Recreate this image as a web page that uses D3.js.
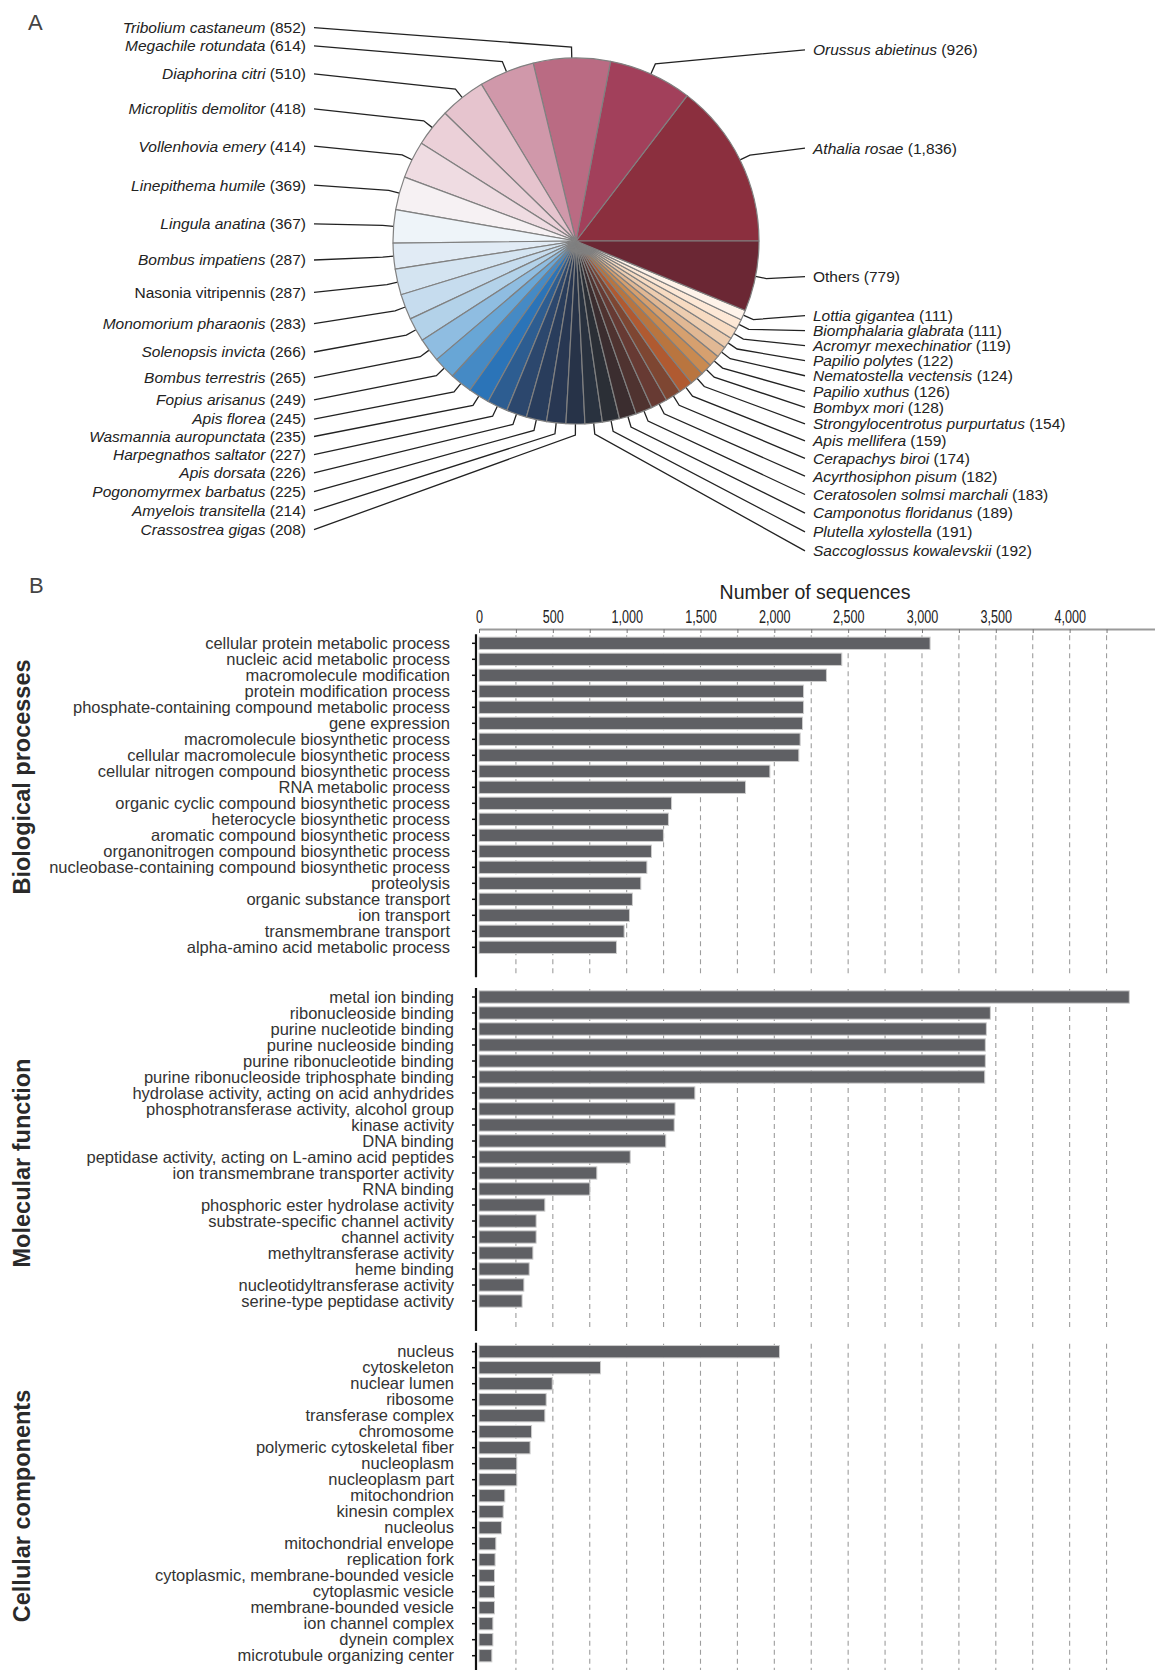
<!DOCTYPE html>
<html>
<head>
<meta charset="utf-8">
<script src="https://cdn.jsdelivr.net/npm/d3@7"></script>
<style>
  body { margin: 0; background: #fff; }
  svg { display: block; font-family: "Liberation Sans", Arial, Helvetica, sans-serif; }
</style>
</head>
<body>
<svg id="fig" width="1155" height="1670"></svg>
<script>
// ---- Panel A: sequences per species (pie order, counter-clockwise from 3 o'clock) ----
const speciesNames = [
  "Athalia rosae", "Orussus abietinus", "Tribolium castaneum", "Megachile rotundata",
  "Diaphorina citri", "Microplitis demolitor", "Vollenhovia emery", "Linepithema humile",
  "Lingula anatina", "Bombus impatiens", "Nasonia vitripennis", "Monomorium pharaonis",
  "Solenopsis invicta", "Bombus terrestris", "Fopius arisanus", "Apis florea",
  "Wasmannia auropunctata", "Harpegnathos saltator", "Apis dorsata", "Pogonomyrmex barbatus",
  "Amyelois transitella", "Crassostrea gigas", "Saccoglossus kowalevskii", "Plutella xylostella",
  "Camponotus floridanus", "Ceratosolen solmsi marchali", "Acyrthosiphon pisum", "Cerapachys biroi",
  "Apis mellifera", "Strongylocentrotus purpurtatus", "Bombyx mori", "Papilio xuthus",
  "Nematostella vectensis", "Papilio polytes", "Acromyr mexechinatior", "Biomphalaria glabrata",
  "Lottia gigantea", "Others"
];
const speciesCounts = [
  1836, 926, 852, 614, 510, 418, 414, 369, 367, 287, 287, 283, 266, 265, 249, 245,
  235, 227, 226, 225, 214, 208, 192, 191, 189, 183, 182, 174, 159, 154, 128, 126,
  124, 122, 119, 111, 111, 779
];
const uprightNames = ["Nasonia vitripennis", "Others"];
const speciesColors = [
  "#8b2f3e", "#a2405b", "#ba6b83", "#d098aa", "#e6c4ce", "#ebd0d8", "#efdce2", "#f6f1f3",
  "#eef4f9", "#e1ebf5", "#d4e4f1", "#c6dcee", "#b3d2e9", "#8fbde1", "#68a6d6", "#458ac5",
  "#2b74b8", "#2d5d91", "#2c476d", "#293d5c", "#283752", "#273348", "#29323f", "#2b2f36",
  "#3b2d2f", "#4f3330", "#673a33", "#7e4632", "#b05a31", "#b9753f", "#c98a50", "#d6a06f",
  "#e1b894", "#edcdb0", "#f7dbc2", "#fde8d6", "#fef3ea", "#6b2734"
];

// ---- Panel B: GO term counts ----
const bpTerms = [
  "cellular protein metabolic process", "nucleic acid metabolic process",
  "macromolecule modification", "protein modification process",
  "phosphate-containing compound metabolic process", "gene expression",
  "macromolecule biosynthetic process", "cellular macromolecule biosynthetic process",
  "cellular nitrogen compound biosynthetic process", "RNA metabolic process",
  "organic cyclic compound biosynthetic process", "heterocycle biosynthetic process",
  "aromatic compound biosynthetic process", "organonitrogen compound biosynthetic process",
  "nucleobase-containing compound biosynthetic process", "proteolysis",
  "organic substance transport", "ion transport", "transmembrane transport",
  "alpha-amino acid metabolic process"
];
const bpCounts = [3055, 2457, 2353, 2198, 2198, 2191, 2175, 2166, 1970, 1805,
                  1304, 1283, 1249, 1168, 1137, 1096, 1039, 1019, 983, 931];

const mfTerms = [
  "metal ion binding", "ribonucleoside binding", "purine nucleotide binding",
  "purine nucleoside binding", "purine ribonucleotide binding",
  "purine ribonucleoside triphosphate binding", "hydrolase activity, acting on acid anhydrides",
  "phosphotransferase activity, alcohol group", "kinase activity", "DNA binding",
  "peptidase activity, acting on L-amino acid peptides", "ion transmembrane transporter activity",
  "RNA binding", "phosphoric ester hydrolase activity", "substrate-specific channel activity",
  "channel activity", "methyltransferase activity", "heme binding",
  "nucleotidyltransferase activity", "serine-type peptidase activity"
];
const mfCounts = [4404, 3463, 3436, 3429, 3429, 3425, 1462, 1328, 1322, 1265,
                  1024, 798, 751, 446, 387, 387, 365, 340, 304, 292];

const ccTerms = [
  "nucleus", "cytoskeleton", "nuclear lumen", "ribosome", "transferase complex",
  "chromosome", "polymeric cytoskeletal fiber", "nucleoplasm", "nucleoplasm part",
  "mitochondrion", "kinesin complex", "nucleolus", "mitochondrial envelope",
  "replication fork", "cytoplasmic, membrane-bounded vesicle", "cytoplasmic vesicle",
  "membrane-bounded vesicle", "ion channel complex", "dynein complex",
  "microtubule organizing center"
];
const ccCounts = [2035, 823, 496, 455, 446, 356, 346, 256, 256, 175,
                  164, 152, 114, 109, 105, 105, 105, 94, 94, 87];

const axisTicks = d3.range(0, 4251, 250);
const axisLabelStep = 500;
const axisLabelMax = 4000;

const svg = d3.select("#fig");
const fmt = d3.format(",");

// Panel letters
svg.append("text").attr("x", 28).attr("y", 30).attr("font-size", 22).attr("fill", "#444").text("A");
svg.append("text").attr("x", 29).attr("y", 593).attr("font-size", 22).attr("fill", "#444").text("B");

// ================= Pie =================
const cx = 576, cy = 241, R = 183;
const species = speciesNames.map((n, i) => ({ name: n, count: speciesCounts[i], color: speciesColors[i] }));
const pie = d3.pie().value(d => d.count).sort(null)
  .startAngle(Math.PI / 2).endAngle(Math.PI / 2 - 2 * Math.PI);
const arcs = pie(species);
const arcGen = d3.arc().innerRadius(0).outerRadius(R);

const items = arcs.map(a => {
  const m = (a.startAngle + a.endAngle) / 2;
  const ux = Math.sin(m), uy = -Math.cos(m);
  return {
    a, ux, uy, side: ux >= 0 ? "right" : "left",
    edge: [cx + ux * R, cy + uy * R],
    elbow: [cx + ux * (R + 11), cy + uy * (R + 11)]
  };
});

// spread label targets away from the centre line, then push down to avoid overlap;
// steeper leaders get a slightly larger minimum spacing
function layoutSide(list, spreadUp, spreadDown) {
  list.forEach(d => {
    const off = d.elbow[1] - cy;
    d.ty = cy + off * (off < 0 ? spreadUp : spreadDown);
    d.gap = Math.max(15, 9 + 10 * Math.abs(d.uy));
  });
  list.sort((p, q) => p.ty - q.ty);
  let prev = -Infinity;
  list.forEach(d => { d.y = Math.max(d.ty, prev + d.gap); prev = d.y; });
}
const leftItems = items.filter(d => d.side === "left");
const rightItems = items.filter(d => d.side === "right");
layoutSide(leftItems, 1.1, 1.18);
layoutSide(rightItems, 1.08, 0.95);

const leftTextX = 306, leftLineX = 314, rightTextX = 813, rightLineX = 805;

const gLines = svg.append("g").attr("fill", "none").attr("stroke", "#222").attr("stroke-width", 1.3);
items.forEach(d => {
  const lx = d.side === "left" ? leftLineX : rightLineX;
  gLines.append("path").attr("d", d3.line()([[lx, d.y], d.elbow, d.edge]));
});

const gPie = svg.append("g").attr("transform", `translate(${cx},${cy})`);
gPie.selectAll("path").data(arcs).join("path")
  .attr("d", arcGen)
  .attr("fill", d => d.data.color)
  .attr("stroke", "#808080")
  .attr("stroke-width", 1.2)
  .attr("stroke-linejoin", "round");

const gLab = svg.append("g").attr("font-size", 15.5).attr("fill", "#222");
items.forEach(d => {
  const t = gLab.append("text")
    .attr("x", d.side === "left" ? leftTextX : rightTextX)
    .attr("y", d.y).attr("dy", "0.35em")
    .attr("text-anchor", d.side === "left" ? "end" : "start");
  const nm = d.a.data.name;
  t.append("tspan").attr("font-style", uprightNames.includes(nm) ? "normal" : "italic").text(nm);
  t.append("tspan").text(` (${fmt(d.a.data.count)})`);
});

// ================= Bars =================
const pxPerUnit = 0.14766;
const x0 = 479;
const x = d3.scaleLinear().domain([0, 4600]).range([x0, x0 + 4600 * pxPerUnit]);
const axisY = 629;

svg.append("text")
  .attr("x", 815).attr("y", 599).attr("text-anchor", "middle")
  .attr("font-size", 19.5).attr("fill", "#222")
  .text("Number of sequences");

const gAxis = svg.append("g").attr("transform", `translate(0,${axisY})`)
  .call(d3.axisTop(x).tickValues(axisTicks).tickSize(-4).tickSizeOuter(0).tickPadding(6)
    .tickFormat(d => (d % axisLabelStep === 0 && d <= axisLabelMax) ? fmt(d) : ""));
gAxis.select(".domain").attr("stroke", "#9a9a9a").attr("stroke-width", 2);
gAxis.selectAll(".tick line").attr("stroke", "#777").attr("stroke-width", 1);
gAxis.selectAll(".tick text")
  .attr("font-family", "'Liberation Sans', Arial, sans-serif")
  .attr("font-size", 17.5).attr("fill", "#222")
  .attr("transform", "scale(0.72,1)");

const rowStep = 16;
const panels = [
  { title: "Biological processes", terms: bpTerms, counts: bpCounts, top: 635.3, labelX: 450, titleY: 777 },
  { title: "Molecular function", terms: mfTerms, counts: mfCounts, top: 989, labelX: 454, titleY: 1163 },
  { title: "Cellular components", terms: ccTerms, counts: ccCounts, top: 1343.7, labelX: 454, titleY: 1506 }
];
const axisX = 476;

panels.forEach(p => {
  const n = p.terms.length;
  const y = d3.scaleBand().domain(p.terms)
    .range([p.top, p.top + n * rowStep]).paddingInner(0.23).paddingOuter(0.115);
  const bottom = Math.min(p.top + 342, 1670);
  const g = svg.append("g");

  // dashed grid
  g.append("g").selectAll("line").data(axisTicks.filter(v => v > 0)).join("line")
    .attr("x1", d => x(d)).attr("x2", d => x(d))
    .attr("y1", p.top).attr("y2", bottom)
    .attr("stroke", "#9d9d9d").attr("stroke-width", 1.1).attr("stroke-dasharray", "5,4");

  // bars
  const data = p.terms.map((t, i) => ({ term: t, count: p.counts[i] }));
  g.append("g").selectAll("rect").data(data).join("rect")
    .attr("x", x(0)).attr("y", d => y(d.term))
    .attr("width", d => x(d.count) - x(0)).attr("height", y.bandwidth())
    .attr("fill", "#5f6064").attr("stroke", "#cdcdcd").attr("stroke-width", 1);

  // y axis
  g.append("line").attr("x1", axisX).attr("x2", axisX)
    .attr("y1", p.top - 1).attr("y2", bottom)
    .attr("stroke", "#111").attr("stroke-width", 2.2);
  const ya = g.append("g").attr("transform", `translate(${axisX},0)`)
    .call(d3.axisLeft(y).tickSize(4).tickFormat(""));
  ya.select(".domain").remove();
  ya.selectAll(".tick line").attr("stroke", "#111").attr("stroke-width", 1.5);

  // term labels
  g.append("g").selectAll("text").data(data).join("text")
    .attr("x", p.labelX).attr("y", d => y(d.term) + y.bandwidth() / 2).attr("dy", "0.35em")
    .attr("text-anchor", "end").attr("font-size", 16.5).attr("fill", "#333")
    .text(d => d.term);

  // side title
  g.append("text")
    .attr("transform", `translate(22,${p.titleY}) rotate(-90)`)
    .attr("text-anchor", "middle").attr("dy", "0.36em")
    .attr("font-size", 23.5).attr("font-weight", "bold").attr("fill", "#2a2a2a")
    .text(p.title);
});
</script>
</body>
</html>
